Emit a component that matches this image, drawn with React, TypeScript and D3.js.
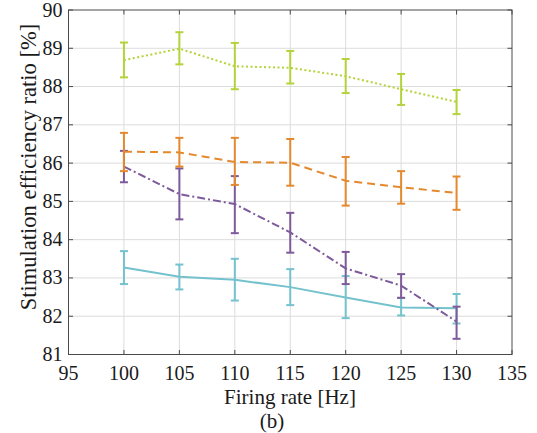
import React, { useRef, useEffect } from 'react';
import * as d3 from 'd3';

const firingRates = [100, 105, 110, 115, 120, 125, 130];
const xTicks = [95, 100, 105, 110, 115, 120, 125, 130, 135];
const yTicks = [81, 82, 83, 84, 85, 86, 87, 88, 89, 90];

const greenMean = [88.69, 88.99, 88.53, 88.49, 88.27, 87.93, 87.6];
const greenLow = [88.24, 88.58, 87.93, 88.08, 87.83, 87.52, 87.28];
const greenHigh = [89.15, 89.42, 89.14, 88.93, 88.72, 88.33, 87.91];

const orangeMean = [86.3, 86.28, 86.03, 86.01, 85.54, 85.37, 85.22];
const orangeLow = [85.79, 85.91, 85.43, 85.41, 84.89, 84.94, 84.78];
const orangeHigh = [86.79, 86.66, 86.66, 86.63, 86.16, 85.79, 85.65];

const purpleMean = [85.91, 85.19, 84.93, 84.19, 83.25, 82.8, 81.86];
const purpleLow = [85.5, 84.53, 84.17, 83.66, 82.84, 82.48, 81.41];
const purpleHigh = [86.32, 85.86, 85.66, 84.7, 83.68, 83.1, 82.25];

const cyanMean = [83.27, 83.03, 82.95, 82.76, 82.49, 82.23, 82.21];
const cyanLow = [82.84, 82.7, 82.41, 82.29, 81.95, 82.02, 81.81];
const cyanHigh = [83.7, 83.35, 83.5, 83.23, 83.05, 82.48, 82.58];

const seriesList = [
  { name: 'cyan', color: '#74c2cd', dash: null, mean: cyanMean, low: cyanLow, high: cyanHigh },
  { name: 'purple', color: '#7e5a9b', dash: '8,3,2,3', mean: purpleMean, low: purpleLow, high: purpleHigh },
  { name: 'orange', color: '#e4892e', dash: '8,5', mean: orangeMean, low: orangeLow, high: orangeHigh },
  { name: 'green', color: '#b4d33a', dash: '2,2.5', mean: greenMean, low: greenLow, high: greenHigh },
];

export default function App() {
  const ref = useRef<SVGSVGElement>(null);

  useEffect(() => {
    const svg = d3.select(ref.current);
    svg.selectAll('*').remove();

    const left = 68.5, right = 512, top = 10, bottom = 354.5;

    const x = d3.scaleLinear().domain([95, 135]).range([left, right]);
    const y = d3.scaleLinear().domain([81, 90]).range([bottom, top]);

    svg.append('rect')
      .attr('x', left).attr('y', top)
      .attr('width', right - left).attr('height', bottom - top)
      .attr('fill', '#fff');

    // grid
    const grid = svg.append('g').attr('stroke', '#dcdcdc').attr('stroke-width', 1);
    xTicks.slice(1, -1).forEach(t => {
      grid.append('line').attr('x1', x(t)).attr('x2', x(t)).attr('y1', top).attr('y2', bottom);
    });
    yTicks.slice(1, -1).forEach(t => {
      grid.append('line').attr('x1', left).attr('x2', right).attr('y1', y(t)).attr('y2', y(t));
    });

    // series
    const line = d3.line<number>()
      .x((_, i) => x(firingRates[i]))
      .y(d => y(d));

    seriesList.forEach(s => {
      const g = svg.append('g');
      g.append('path')
        .datum(s.mean)
        .attr('d', line)
        .attr('fill', 'none')
        .attr('stroke', s.color)
        .attr('stroke-width', 2)
        .attr('stroke-dasharray', s.dash);
      firingRates.forEach((r, i) => {
        const cx = x(r);
        const eb = g.append('g').attr('stroke', s.color).attr('stroke-width', 2);
        eb.append('line').attr('x1', cx).attr('x2', cx).attr('y1', y(s.low[i])).attr('y2', y(s.high[i]));
        eb.append('line').attr('x1', cx - 4).attr('x2', cx + 4).attr('y1', y(s.low[i])).attr('y2', y(s.low[i]));
        eb.append('line').attr('x1', cx - 4).attr('x2', cx + 4).attr('y1', y(s.high[i])).attr('y2', y(s.high[i]));
      });
    });

    // box and ticks
    const axisColor = '#4a4a4a';
    const ax = svg.append('g').attr('stroke', axisColor).attr('stroke-width', 1);
    ax.append('rect')
      .attr('x', left).attr('y', top)
      .attr('width', right - left).attr('height', bottom - top)
      .attr('fill', 'none');
    const tl = 4.5;
    xTicks.forEach(t => {
      ax.append('line').attr('x1', x(t)).attr('x2', x(t)).attr('y1', bottom).attr('y2', bottom - tl);
      ax.append('line').attr('x1', x(t)).attr('x2', x(t)).attr('y1', top).attr('y2', top + tl);
    });
    yTicks.forEach(t => {
      ax.append('line').attr('x1', left).attr('x2', left + tl).attr('y1', y(t)).attr('y2', y(t));
      ax.append('line').attr('x1', right).attr('x2', right - tl).attr('y1', y(t)).attr('y2', y(t));
    });

    const txt = svg.append('g').style('font-family', 'Liberation Serif, serif').attr('fill', '#1a1a1a');
    xTicks.forEach(t => {
      txt.append('text')
        .attr('x', x(t)).attr('y', bottom + 25)
        .attr('text-anchor', 'middle')
        .attr('font-size', 20)
        .text(t);
    });
    yTicks.forEach(t => {
      txt.append('text')
        .attr('x', left - 6).attr('y', y(t) + 6.5)
        .attr('text-anchor', 'end')
        .attr('font-size', 20)
        .text(t);
    });

    txt.append('text')
      .attr('x', 290).attr('y', 404)
      .attr('text-anchor', 'middle')
      .attr('font-size', 21)
      .text('Firing rate [Hz]');

    txt.append('text')
      .attr('transform', `translate(36, 167) rotate(-90)`)
      .attr('text-anchor', 'middle')
      .attr('font-size', 22.5)
      .text('Stimulation efficiency ratio [%]');

    txt.append('text')
      .attr('x', 272).attr('y', 428)
      .attr('text-anchor', 'middle')
      .attr('font-size', 21)
      .text('(b)');
  }, []);

  return (
    <svg
      ref={ref}
      width={537}
      height={433}
      style={{ position: 'absolute', left: 0, top: 0, background: '#fff' }}
    />
  );
}
